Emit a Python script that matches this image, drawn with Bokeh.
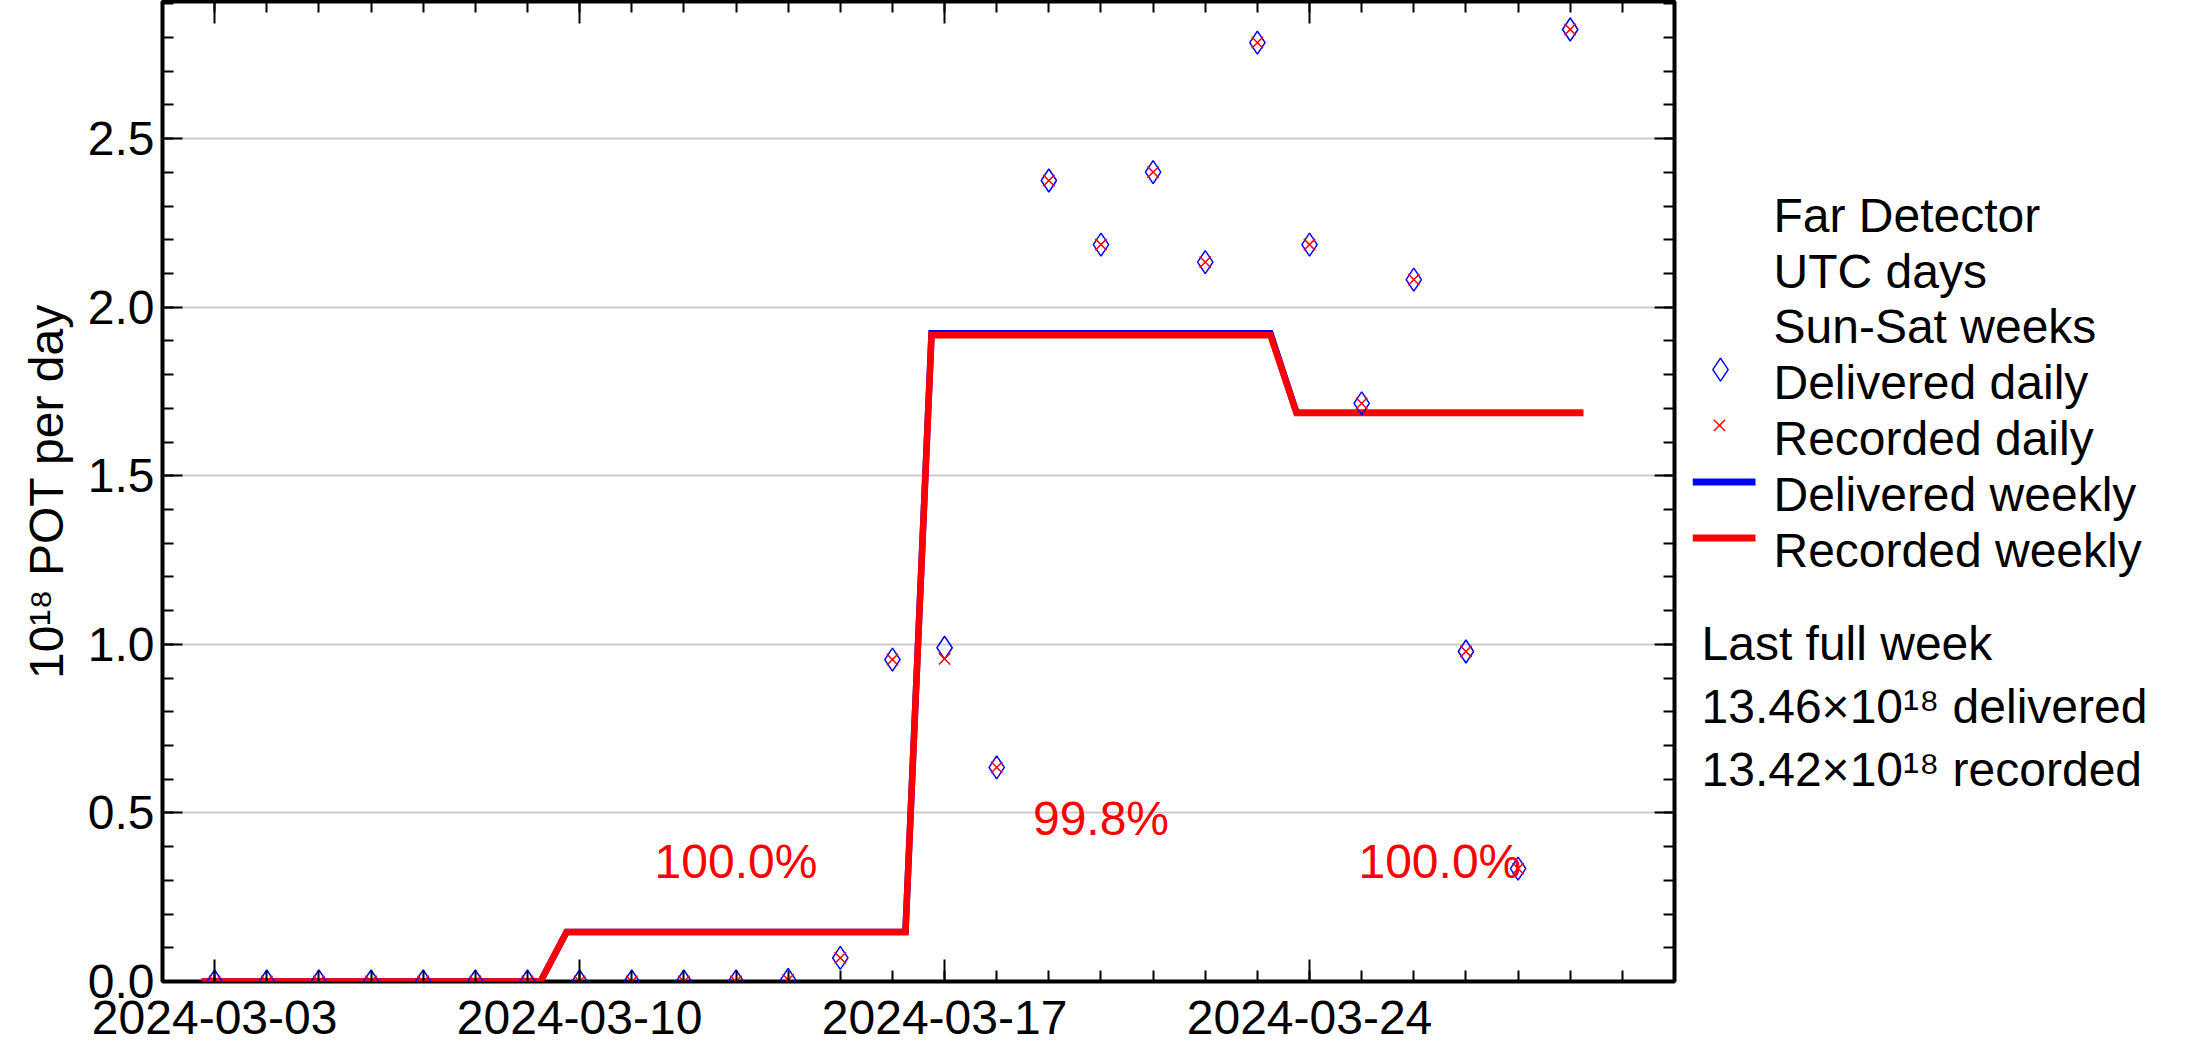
import datetime as dt
from bokeh.plotting import figure
from bokeh.models import (Range1d, FixedTicker, DatetimeTickFormatter, LinearAxis,
                          DatetimeAxis, ColumnDataSource, PrintfTickFormatter)
from bokeh.layouts import row
from bokeh.embed import file_html
from bokeh.resources import INLINE
from bokeh.core.properties import value

# ---------------- data ----------------
days = ["2024-03-03", "2024-03-04", "2024-03-05", "2024-03-06", "2024-03-07",
        "2024-03-08", "2024-03-09", "2024-03-10", "2024-03-11", "2024-03-12",
        "2024-03-13", "2024-03-14", "2024-03-15", "2024-03-16", "2024-03-17",
        "2024-03-18", "2024-03-19", "2024-03-20", "2024-03-21", "2024-03-22",
        "2024-03-23", "2024-03-24", "2024-03-25", "2024-03-26", "2024-03-27",
        "2024-03-28", "2024-03-29"]
delivered_daily = [0.0, 0.0, 0.0, 0.0, 0.0, 0.0, 0.0, 0.0, 0.0, 0.0, 0.0,
                   0.005, 0.07, 0.955, 0.99, 0.635, 2.376, 2.186, 2.401, 2.134,
                   2.785, 2.186, 1.715, 2.082, 0.979, 0.335, 2.824]
recorded_daily = [0.0, 0.0, 0.0, 0.0, 0.0, 0.0, 0.0, 0.0, 0.0, 0.0, 0.0,
                  0.005, 0.07, 0.955, 0.957, 0.635, 2.376, 2.186, 2.401, 2.134,
                  2.785, 2.186, 1.715, 2.082, 0.979, 0.335, 2.824]

week_first = ["2024-03-03", "2024-03-10", "2024-03-17", "2024-03-24"]
week_last = ["2024-03-09", "2024-03-16", "2024-03-23", "2024-03-29"]
delivered_weekly = [0.0, 0.147, 1.923, 1.687]
recorded_weekly = [0.0, 0.147, 1.917, 1.686]

pct_text = ["100.0%", "99.8%", "100.0%"]
pct_x = ["2024-03-13 00:00", "2024-03-20 00:00", "2024-03-26 12:00"]
pct_y = [0.357, 0.484, 0.357]

x_major_labels = ["2024-03-03", "2024-03-10", "2024-03-17", "2024-03-24"]
y_major = [0.0, 0.5, 1.0, 1.5, 2.0, 2.5]

legend_lines = ["Far Detector", "UTC days", "Sun-Sat weeks", "Delivered daily",
                "Recorded daily", "Delivered weekly", "Recorded weekly"]
summary_lines = ["Last full week", "13.46\u00d710\u00b9\u2078 delivered",
                 "13.42\u00d710\u00b9\u2078 recorded"]

# ---------------- helpers ----------------
EPOCH = dt.datetime(1970, 1, 1)
DAY = 86400000.0


def ms(s):
    f = "%Y-%m-%d %H:%M" if " " in s else "%Y-%m-%d"
    return (dt.datetime.strptime(s, f) - EPOCH).total_seconds() * 1000.0


FONT = "Liberation Sans"
FS = "48px"

x_start = ms("2024-03-02")
x_end = ms("2024-03-31")

day_x = [ms(d) for d in days]
daily_src = ColumnDataSource(dict(x=day_x, d=delivered_daily, r=recorded_daily))

half = 0.25 * DAY
wx, wd, wr = [], [], []
for a, b, d, r in zip(week_first, week_last, delivered_weekly, recorded_weekly):
    wx += [ms(a) - half, ms(b) + half]
    wd += [d, d]
    wr += [r, r]

x_ticker = FixedTicker(ticks=[ms(t) for t in x_major_labels],
                       minor_ticks=[x_start + i * DAY for i in range(0, 30)])
y_ticker = FixedTicker(ticks=y_major,
                       minor_ticks=[round(0.1 * i, 2) for i in range(0, 30)])

# ---------------- layout sizes ----------------
TOTAL_W = 2169
TOTAL_H = 1045
MAIN_W = 1692

# ---------------- main figure ----------------
p = figure(width=MAIN_W, height=TOTAL_H, x_axis_type="datetime", title=None,
           x_range=Range1d(x_start, x_end), y_range=Range1d(0, 2.907),
           output_backend="svg", toolbar_location=None,
           min_border_left=162, min_border_right=18, min_border_top=1,
           min_border_bottom=64)
p.background_fill_color = "white"
p.border_fill_color = "white"
p.outline_line_color = "black"
p.outline_line_width = 4

p.xgrid.visible = False
p.ygrid.ticker = y_ticker
p.ygrid.grid_line_color = "#cccccc"
p.ygrid.grid_line_width = 2

fmt_str = "%Y-%m-%d"
fmt = DatetimeTickFormatter(milliseconds=fmt_str, seconds=fmt_str, minsec=fmt_str,
                            minutes=fmt_str, hourmin=fmt_str, hours=fmt_str,
                            days=fmt_str, months=fmt_str, years=fmt_str)


def style_axis(ax, major_len, show_labels):
    ax.axis_line_color = None
    ax.major_tick_in = major_len
    ax.major_tick_out = 0
    ax.minor_tick_in = 11
    ax.minor_tick_out = 0
    ax.major_tick_line_width = 2
    ax.minor_tick_line_width = 2
    ax.major_tick_line_color = "black"
    ax.minor_tick_line_color = "black"
    if show_labels:
        ax.major_label_text_font = FONT
        ax.major_label_text_font_size = FS
        ax.major_label_text_color = "black"
    else:
        ax.major_label_text_font_size = "0px"
        ax.major_label_text_color = None
        ax.major_label_standoff = 0


xb = p.xaxis[0]
xb.ticker = x_ticker
xb.formatter = fmt
style_axis(xb, 22, True)
xb.major_label_standoff = 19

yl = p.yaxis[0]
yl.ticker = y_ticker
yl.formatter = PrintfTickFormatter(format="%.1f")
style_axis(yl, 20, True)
yl.major_label_standoff = 8
yl.axis_label = "10\u00b9\u2078 POT per day"
yl.axis_label_text_font = FONT
yl.axis_label_text_font_size = FS
yl.axis_label_text_font_style = "normal"
yl.axis_label_text_color = "black"
yl.axis_label_standoff = 12

xt = DatetimeAxis(ticker=x_ticker, formatter=fmt)
style_axis(xt, 22, False)
p.add_layout(xt, "above")

yr = LinearAxis(ticker=y_ticker)
style_axis(yr, 20, False)
p.add_layout(yr, "right")

# weekly lines
p.line(wx, wd, line_color="#0000ff", line_width=6.5, line_join="miter")
p.line(wx, wr, line_color="#ff0000", line_width=6.5, line_join="miter")

# daily markers
p.scatter("x", "d", source=daily_src, marker="diamond", size=23,
          fill_color=None, line_color="#0000ff", line_width=1.5)
p.scatter("x", "r", source=daily_src, marker="x", size=16,
          line_color="#ff0000", line_width=1.5)

# percentages
pct_src = ColumnDataSource(dict(x=[ms(s) for s in pct_x], y=pct_y, t=pct_text))
p.text("x", "y", text="t", source=pct_src, text_font=value(FONT),
       text_font_size=FS, text_color="#ff0000", text_align="center",
       text_baseline="middle")

# ---------------- legend figure ----------------
LW = TOTAL_W - MAIN_W
leg = figure(width=LW, height=TOTAL_H, x_range=Range1d(0, LW),
             y_range=Range1d(TOTAL_H, 0), title=None,
             x_axis_location=None, y_axis_location=None,
             output_backend="svg", toolbar_location=None,
             min_border_left=0, min_border_right=0, min_border_top=0,
             min_border_bottom=0)
leg.grid.visible = False
leg.outline_line_color = None
leg.background_fill_color = "white"
leg.border_fill_color = "white"

text_x = 81
base0 = 228
step = 59.5
leg_src = ColumnDataSource(dict(x=[text_x] * len(legend_lines),
                                y=[base0 + i * step for i in range(len(legend_lines))],
                                t=legend_lines))
leg.text("x", "y", text="t", source=leg_src, text_font=value(FONT),
         text_font_size=FS, text_color="black", text_align="left",
         text_baseline="alphabetic")

mid3 = base0 + 3 * step - 14
mid4 = base0 + 4 * step - 14
mid5 = base0 + 5 * step - 13
mid6 = base0 + 6 * step - 13
leg.scatter([28], [mid3], marker="diamond", size=23, fill_color=None,
            line_color="#0000ff", line_width=1.5)
leg.scatter([27], [mid4], marker="x", size=16, line_color="#ff0000", line_width=1.5)
leg.line([0, 63], [mid5, mid5], line_color="#0000ff", line_width=7)
leg.line([0, 63], [mid6, mid6], line_color="#ff0000", line_width=7)

sum_src = ColumnDataSource(dict(x=[9] * 3, y=[685, 752, 819], t=summary_lines))
leg.text("x", "y", text="t", source=sum_src, text_font=value(FONT),
         text_font_size=FS, text_color="black", text_align="left",
         text_baseline="alphabetic")

layout = row(p, leg)
open("out.html", "w").write(file_html(layout, INLINE))
